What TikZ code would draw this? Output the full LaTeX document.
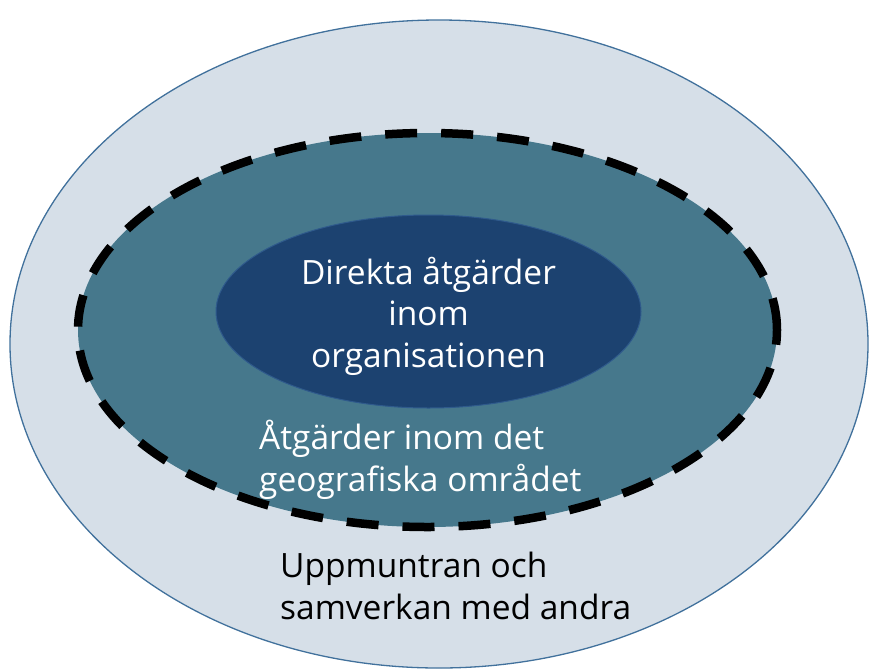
\documentclass[tikz,border=0pt]{standalone}
\usepackage{fontspec}
\setmainfont{Open Sans}
\usetikzlibrary{shapes.geometric}
\definecolor{outerfill}{HTML}{D6DFE8}
\definecolor{outerline}{HTML}{41719C}
\definecolor{midfill}{HTML}{46788C}
\definecolor{innerfill}{HTML}{1C4270}
\definecolor{innerline}{HTML}{2F5A8C}

\begin{document}
\begin{tikzpicture}[x=1pt,y=-1pt,
  zone/.style={ellipse, inner sep=0pt},
  label/.style={inner sep=0pt, font=\fontsize{33.5}{41.5}\selectfont}]
\useasboundingbox (0,0) rectangle (869,670);

% define the zones
  \node[zone, fill=outerfill, draw=outerline, line width=1.3pt,
        minimum width=858pt, minimum height=648pt] (outer) at (439,344) {};
  \node[zone, fill=midfill, draw=black, line width=8.5pt,
        dash pattern=on 32pt off 24pt,
        minimum width=699pt, minimum height=394pt] (mid) at (427.5,330) {};
  \node[zone, fill=innerfill, draw=innerline, line width=1pt,
        minimum width=425pt, minimum height=193pt] (inner) at (428.5,311.5) {};

% define the labels
  \node[label, text=white, align=center] (innertext) at (428.5,316)
    {Direkta åtgärder\\inom\\organisationen};
  \node[label, text=white, align=left, anchor=west] (midtext) at (259,460)
    {Åtgärder inom det\\geografiska området};
  \node[label, text=black, align=left, anchor=west] (outertext) at (280,586)
    {Uppmuntran och\\samverkan med andra};

\end{tikzpicture}
\end{document}
